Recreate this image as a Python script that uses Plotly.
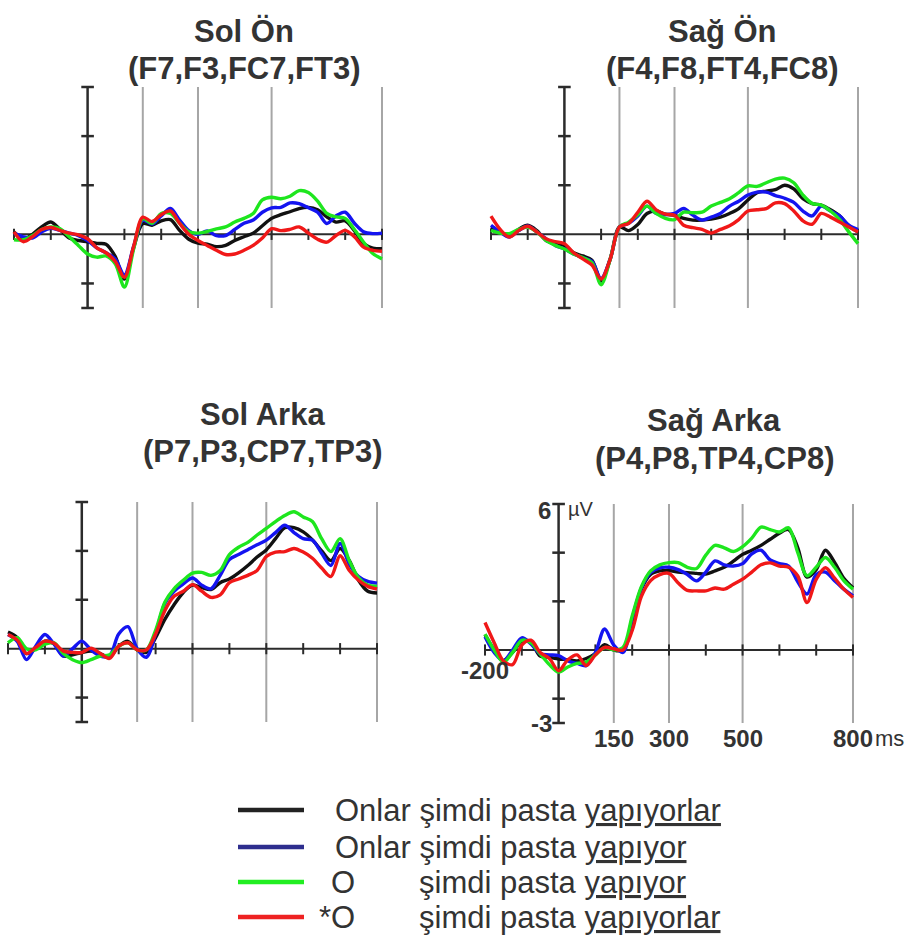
import plotly.graph_objects as go

W, H = 915, 935

# ---------------- data ----------------
time_ms = list(range(-200, 801, 25))

# Sol Ön (F7,F3,FC7,FT3)
sol_on_black = [0.1, -0.2, 0.0, 0.3, 0.5, 0.2, -0.15, -0.25, -0.3, -0.37, -0.4, -0.9, -1.82, -0.55, 0.44, 0.37, 0.55, 0.6, 0.16, -0.2, -0.36, -0.4, -0.5, -0.45, -0.25, -0.1, 0.05, 0.35, 0.65, 0.8, 0.92, 1.05, 1.1, 1.0, 0.71, 0.5, 0.55, 0.15, -0.38, -0.56, -0.59]
sol_on_blue = [0.05, -0.1, -0.15, 0.1, 0.25, 0.16, 0.05, -0.05, -0.25, -0.55, -0.75, -1.0, -1.65, -0.5, 0.58, 0.42, 0.75, 1.05, 0.58, 0.15, 0.0, 0.14, -0.05, -0.05, 0.2, 0.45, 0.58, 0.9, 1.08, 1.1, 1.28, 1.25, 1.08, 0.9, 0.44, 0.75, 0.9, 0.45, 0.1, 0.03, 0.05]
sol_on_green = [-0.22, -0.22, -0.05, 0.2, 0.3, 0.23, -0.1, -0.45, -0.8, -0.93, -0.88, -1.2, -2.15, -0.6, 0.64, 0.45, 0.85, 0.85, 0.45, 0.1, 0.05, 0.12, 0.22, 0.3, 0.5, 0.65, 0.85, 1.4, 1.51, 1.45, 1.55, 1.78, 1.7, 1.35, 0.85, 0.71, 0.65, 0.2, -0.32, -0.78, -1.0]
sol_on_red = [0.1, -0.3, -0.1, 0.2, 0.28, 0.16, 0.05, -0.02, -0.18, -0.55, -0.75, -1.1, -1.75, -0.5, 0.7, 0.52, 0.8, 0.95, 0.45, 0.0, -0.25, -0.45, -0.65, -0.82, -0.8, -0.65, -0.45, -0.15, 0.23, 0.15, 0.2, 0.3, 0.05, -0.2, -0.32, -0.05, 0.16, -0.1, -0.52, -0.65, -0.69]

# Sağ Ön (F4,F8,FT4,FC8)
sag_on_black = [0.3, 0.1, -0.05, 0.2, 0.37, 0.15, -0.25, -0.38, -0.45, -0.75, -0.88, -1.05, -1.9, -1.0, 0.3, 0.15, 0.4, 0.85, 0.95, 0.82, 0.78, 0.65, 0.58, 0.58, 0.62, 0.7, 0.85, 1.05, 1.4, 1.7, 1.76, 1.82, 2.0, 1.85, 1.45, 1.25, 1.19, 1.0, 0.75, 0.35, 0.1]
sag_on_blue = [0.37, 0.1, -0.11, 0.15, 0.34, 0.1, -0.18, -0.45, -0.59, -0.8, -0.95, -1.1, -1.8, -1.0, 0.3, 0.45, 0.75, 1.15, 0.85, 0.8, 0.85, 1.05, 0.78, 0.58, 0.7, 0.85, 1.15, 1.35, 1.6, 1.72, 1.72, 1.58, 1.47, 1.3, 0.95, 0.75, 1.15, 0.95, 0.75, 0.37, 0.19]
sag_on_green = [0.16, 0.05, 0.03, 0.2, 0.3, 0.1, -0.25, -0.45, -0.6, -0.8, -0.95, -1.15, -2.05, -1.0, 0.3, 0.5, 0.8, 1.15, 0.85, 0.65, 0.6, 0.9, 0.88, 0.9, 1.15, 1.3, 1.45, 1.7, 1.97, 1.95, 2.1, 2.25, 2.29, 2.1, 1.6, 1.26, 1.19, 0.95, 0.6, 0.1, -0.38]
sag_on_red = [0.74, 0.2, -0.11, 0.15, 0.33, 0.1, -0.18, -0.3, -0.38, -0.75, -1.0, -1.25, -1.82, -1.0, 0.3, 0.45, 0.9, 1.35, 1.0, 0.82, 0.78, 0.37, 0.27, 0.2, 0.05, 0.2, 0.35, 0.6, 0.95, 1.0, 1.05, 1.28, 1.25, 0.95, 0.55, 0.41, 0.85, 0.7, 0.5, 0.3, 0.1]

# Sol Arka (P7,P3,CP7,TP3)
sol_arka_black = [0.68, 0.45, -0.2, 0.0, 0.31, 0.2, -0.3, -0.25, -0.16, -0.1, -0.2, -0.35, 0.1, 0.3, -0.05, -0.15, 0.45, 1.2, 1.8, 2.3, 2.6, 2.5, 2.42, 2.7, 2.85, 3.1, 3.4, 3.75, 4.04, 4.5, 4.95, 4.95, 4.78, 4.45, 4.0, 3.6, 4.1, 3.6, 2.8, 2.35, 2.28]
sol_arka_blue = [0.58, 0.3, -0.45, 0.1, 0.58, 0.18, -0.3, 0.0, 0.31, -0.05, -0.3, -0.3, 0.6, 0.9, 0.0, -0.35, 0.6, 1.85, 2.35, 2.65, 2.89, 2.6, 2.45, 3.0, 3.65, 3.85, 4.05, 4.25, 4.44, 4.75, 5.05, 4.75, 4.5, 4.44, 3.9, 3.4, 4.3, 3.45, 2.95, 2.75, 2.68]
sol_arka_green = [0.24, 0.45, 0.0, -0.05, 0.18, 0.24, -0.2, -0.45, -0.57, -0.45, -0.3, -0.25, 0.1, 0.24, -0.05, -0.05, 0.75, 1.9, 2.45, 2.8, 3.09, 3.12, 3.0, 3.2, 3.85, 4.15, 4.35, 4.65, 4.92, 5.2, 5.45, 5.6, 5.39, 5.2, 4.5, 3.97, 4.5, 3.6, 2.9, 2.6, 2.55]
sol_arka_red = [0.58, 0.35, -0.2, 0.05, 0.31, 0.22, -0.1, -0.15, -0.16, 0.02, -0.2, -0.4, 0.1, 0.24, -0.05, -0.05, 0.6, 1.55, 2.14, 2.35, 2.62, 2.35, 2.1, 2.2, 2.7, 2.85, 3.0, 3.2, 3.77, 3.95, 3.97, 4.1, 3.95, 3.7, 3.3, 2.95, 3.8, 3.2, 2.8, 2.55, 2.44]

# Sağ Arka (P4,P8,TP4,CP8)
sag_arka_black = [0.63, 0.0, -0.44, -0.1, 0.35, 0.3, -0.25, -0.3, -0.37, -0.4, -0.45, -0.35, -0.15, 0.22, 0.0, 0.0, 1.2, 2.5, 3.11, 3.25, 3.27, 3.2, 3.18, 3.15, 3.12, 3.25, 3.4, 3.65, 3.93, 4.1, 4.3, 4.55, 4.8, 4.95, 4.2, 3.0, 3.3, 4.1, 3.6, 2.95, 2.56]
sag_arka_blue = [0.55, -0.1, -0.44, 0.0, 0.5, 0.25, -0.16, -0.2, -0.23, -0.45, -0.55, -0.64, -0.1, 0.86, 0.2, -0.1, 1.3, 2.55, 3.18, 3.38, 3.4, 3.3, 3.1, 2.84, 3.2, 3.66, 3.5, 3.45, 3.55, 3.95, 4.1, 3.7, 3.55, 3.45, 2.8, 2.3, 3.1, 3.2, 2.85, 2.5, 2.22]
sag_arka_green = [0.65, 0.0, -0.5, -0.1, 0.4, 0.3, -0.16, -0.6, -0.91, -0.7, -0.55, -0.5, -0.2, 0.1, 0.0, 0.1, 1.4, 2.6, 3.25, 3.5, 3.59, 3.59, 3.4, 3.35, 3.9, 4.3, 4.2, 4.05, 4.25, 4.6, 5.05, 4.95, 4.85, 5.02, 4.0, 3.05, 3.4, 3.8, 3.4, 2.85, 2.5]
sag_arka_red = [1.13, 0.3, -0.45, -0.6, 0.2, 0.4, -0.1, -0.35, -0.85, -0.4, -0.2, -0.64, -0.2, 0.11, 0.05, 0.0, 0.8, 2.2, 2.85, 3.1, 3.15, 2.75, 2.45, 2.43, 2.43, 2.55, 2.5, 2.7, 2.91, 3.2, 3.5, 3.58, 3.45, 3.4, 3.04, 1.95, 2.9, 3.38, 2.95, 2.5, 2.16]

panel_titles = ["Sol Ön", "Sağ Ön", "Sol Arka", "Sağ Arka"]
panel_sites = ["(F7,F3,FC7,FT3)", "(F4,F8,FT4,FC8)", "(P7,P3,CP7,TP3)", "(P4,P8,TP4,CP8)"]

condition_labels = ["Onlar şimdi pasta yapıyorlar", "Onlar şimdi pasta yapıyor",
                    "O şimdi pasta yapıyor", "*O şimdi pasta yapıyorlar"]
condition_colors = ["#111111", "#1414f0", "#1ee61e", "#f01818"]
legend_colors = ["#222222", "#2e2e8e", "#22ee22", "#ee2222"]

x_ticks = [-200, -100, 100, 200, 300, 400, 500, 600, 700, 800]
y_ticks = [-3, -2, 2, 4, 6]
grid_ms = [150, 300, 500, 800]
x_tick_labels = ["150", "300", "500", "800"]

panels_data = [
    [sol_on_black, sol_on_blue, sol_on_green, sol_on_red],
    [sag_on_black, sag_on_blue, sag_on_green, sag_on_red],
    [sol_arka_black, sol_arka_blue, sol_arka_green, sol_arka_red],
    [sag_arka_black, sag_arka_blue, sag_arka_green, sag_arka_red],
]

# ---------------- layout geometry (pixels) ----------------
# (x px at -200 ms, x px at 800 ms, y px at 6 uV, y px at -3 uV)
panel_px = [(14, 382, 87, 308), (491, 858, 87, 308), (8, 377, 502, 722), (485, 853, 504, 723)]
# (centre x, line-1 y, line-2 y)
title_px = [(244, 31, 68), (722, 31, 68), (262, 414, 451), (714, 421, 458)]

XMIN, XMAX, YMIN, YMAX = -200, 800, -3, 6
PADX, PADY = 8, 0.15

TITLE_FONT = "Liberation Sans, Arial, sans-serif"
TEXT_FONT = "Liberation Sans, Arial, sans-serif"
AX_COLOR = "#2b2b2b"
GRID_COLOR = "#a6a6a6"

fig = go.Figure()
layout = dict(
    width=W, height=H, margin=dict(l=0, r=0, t=0, b=0),
    paper_bgcolor="white", plot_bgcolor="rgba(0,0,0,0)",
    showlegend=False,
)
shapes = []
annotations = []

for i, (px0, px1, py6, pym3) in enumerate(panel_px):
    ax = "" if i == 0 else str(i + 1)
    ppm = (px1 - px0) / (XMAX - XMIN)
    ppu = (pym3 - py6) / (YMAX - YMIN)
    layout["xaxis" + ax] = dict(
        domain=[(px0 - PADX * ppm) / W, (px1 + PADX * ppm) / W],
        range=[XMIN - PADX, XMAX + PADX], visible=False, anchor="y" + ax,
    )
    layout["yaxis" + ax] = dict(
        domain=[1 - (pym3 + PADY * ppu) / H, 1 - (py6 - PADY * ppu) / H],
        range=[YMIN - PADY, YMAX + PADY], visible=False, anchor="x" + ax,
    )
    xr, yr = "x" + ax, "y" + ax
    for g in grid_ms:
        shapes.append(dict(type="line", xref=xr, yref=yr, x0=g, x1=g, y0=YMIN, y1=YMAX,
                           line=dict(color=GRID_COLOR, width=2), layer="below"))
    shapes.append(dict(type="line", xref=xr, yref=yr, x0=XMIN, x1=XMAX, y0=0, y1=0,
                       line=dict(color=AX_COLOR, width=2), layer="below"))
    shapes.append(dict(type="line", xref=xr, yref=yr, x0=0, x1=0, y0=YMIN, y1=YMAX,
                       line=dict(color=AX_COLOR, width=2.5), layer="below"))
    # tick marks
    fig.add_trace(go.Scatter(x=x_ticks, y=[0] * len(x_ticks), mode="markers", xaxis=xr, yaxis=yr,
                             marker=dict(symbol="line-ns", size=8, line=dict(width=2, color=AX_COLOR)),
                             cliponaxis=False, hoverinfo="skip"))
    fig.add_trace(go.Scatter(x=[0] * len(y_ticks), y=y_ticks, mode="markers", xaxis=xr, yaxis=yr,
                             marker=dict(symbol="line-ew", size=9, line=dict(width=2.5, color=AX_COLOR)),
                             cliponaxis=False, hoverinfo="skip"))
    for series, col, name in zip(panels_data[i], condition_colors, condition_labels):
        fig.add_trace(go.Scatter(x=time_ms, y=series, mode="lines", name=name, xaxis=xr, yaxis=yr,
                                 line=dict(color=col, width=3.4, shape="spline", smoothing=0.9)))
    # titles
    tx, ty1, ty2 = title_px[i]
    for txt, ty in ((panel_titles[i], ty1), (panel_sites[i], ty2)):
        annotations.append(dict(text="<b>%s</b>" % txt, x=tx / W, y=1 - ty / H, xref="paper", yref="paper",
                                xanchor="center", yanchor="middle", showarrow=False,
                                font=dict(family=TITLE_FONT, size=31, color="#333333")))

# axis labels on the last panel
xr, yr = "x4", "y4"
lab_font = dict(family=TITLE_FONT, size=24, color="#333333")
annotations.append(dict(text="<b>6</b>", x=0, y=YMAX, xref=xr, yref=yr, xanchor="right", yanchor="middle",
                        xshift=-6, yshift=-6, showarrow=False, font=lab_font))
annotations.append(dict(text="µV", x=0, y=YMAX, xref=xr, yref=yr, xanchor="left", yanchor="middle",
                        xshift=7, yshift=-5, showarrow=False,
                        font=dict(family=TEXT_FONT, size=20, color="#333333")))
annotations.append(dict(text="<b>-3</b>", x=0, y=YMIN, xref=xr, yref=yr, xanchor="right", yanchor="middle",
                        xshift=-5, showarrow=False, font=lab_font))
annotations.append(dict(text="<b>-200</b>", x=XMIN, y=0, xref=xr, yref=yr, xanchor="center", yanchor="top",
                        yshift=-5, showarrow=False, font=lab_font))
for g, lab in zip(grid_ms, x_tick_labels):
    annotations.append(dict(text="<b>%s</b>" % lab, x=g, y=YMIN, xref=xr, yref=yr, xanchor="center",
                            yanchor="top", yshift=0, showarrow=False, font=lab_font))
annotations.append(dict(text="ms", x=XMAX, y=YMIN, xref=xr, yref=yr, xanchor="left", yanchor="top",
                        xshift=20, yshift=-1, showarrow=False,
                        font=dict(family=TEXT_FONT, size=22, color="#333333")))

# custom legend
leg_rows_y = [810, 847, 882, 917]
leg_prefix = ["Onlar", "Onlar", "O", "*O"]
leg_rest = ["şimdi pasta <u>yapıyorlar</u>", "şimdi pasta <u>yapıyor</u>",
            "şimdi pasta <u>yapıyor</u>", "şimdi pasta <u>yapıyorlar</u>"]
leg_font = dict(family=TEXT_FONT, size=31, color="#333333")
for k, ly in enumerate(leg_rows_y):
    shapes.append(dict(type="line", xref="paper", yref="paper", x0=238 / W, x1=304 / W,
                       y0=1 - ly / H, y1=1 - ly / H, line=dict(color=legend_colors[k], width=4.5)))
    if leg_prefix[k] == "Onlar":
        annotations.append(dict(text="Onlar " + leg_rest[k], x=333 / W, y=1 - ly / H, xref="paper",
                                yref="paper", xanchor="left", yanchor="middle", showarrow=False, font=leg_font))
    else:
        annotations.append(dict(text=leg_prefix[k], x=357 / W, y=1 - ly / H, xref="paper",
                                yref="paper", xanchor="right", yanchor="middle", showarrow=False, font=leg_font))
        annotations.append(dict(text=leg_rest[k], x=417 / W, y=1 - ly / H, xref="paper",
                                yref="paper", xanchor="left", yanchor="middle", showarrow=False, font=leg_font))

layout["shapes"] = shapes
layout["annotations"] = annotations
fig.update_layout(**layout)
fig.write_html("out.html", config={"displayModeBar": False},
               post_script="document.body.style.margin='0px';document.body.style.overflow='hidden';")
